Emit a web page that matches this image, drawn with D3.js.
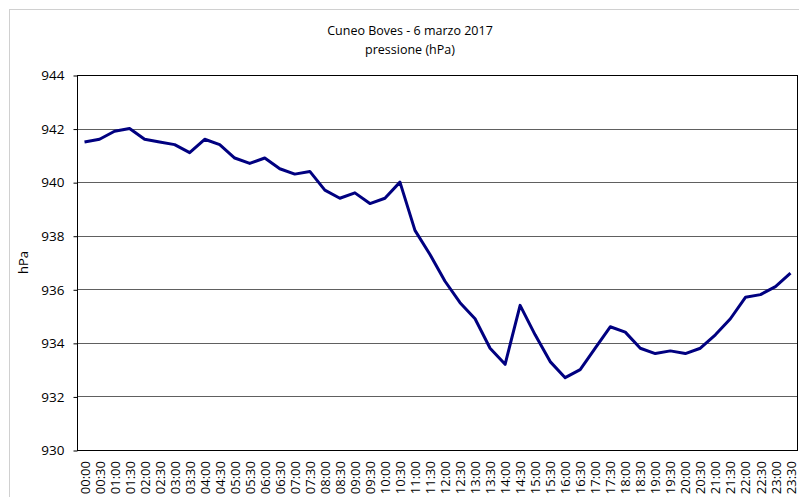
<!DOCTYPE html>
<html>
<head>
<meta charset="utf-8">
<script src="https://cdn.jsdelivr.net/npm/d3@7"></script>
<style>
  html, body { margin: 0; padding: 0; background: #fff; }
  svg { display: block; font-family: "Open Sans", "Noto Sans", sans-serif; }
</style>
</head>
<body>
<svg id="chart" width="799" height="497"></svg>
<script>
// Half-hourly time slots for the day
const times = [
  "00:00","00:30","01:00","01:30","02:00","02:30","03:00","03:30",
  "04:00","04:30","05:00","05:30","06:00","06:30","07:00","07:30",
  "08:00","08:30","09:00","09:30","10:00","10:30","11:00","11:30",
  "12:00","12:30","13:00","13:30","14:00","14:30","15:00","15:30",
  "16:00","16:30","17:00","17:30","18:00","18:30","19:00","19:30",
  "20:00","20:30","21:00","21:30","22:00","22:30","23:00","23:30"
];

// Atmospheric pressure readings (hPa)
const pressure = [
  941.5, 941.6, 941.9, 942.0, 941.6, 941.5, 941.4, 941.1,
  941.6, 941.4, 940.9, 940.7, 940.9, 940.5, 940.3, 940.4,
  939.7, 939.4, 939.6, 939.2, 939.4, 940.0, 938.2, 937.3,
  936.3, 935.5, 934.9, 933.8, 933.2, 935.4, 934.3, 933.3,
  932.7, 933.0, 933.8, 934.6, 934.4, 933.8, 933.6, 933.7,
  933.6, 933.8, 934.3, 934.9, 935.7, 935.8, 936.1, 936.6
];

const yTicks = [930, 932, 934, 936, 938, 940, 942, 944];
const titleLines = ["Cuneo Boves - 6 marzo 2017", "pressione (hPa)"];
const yLabel = "hPa";

const svg = d3.select("#chart");
const plot = { left: 77, right: 798, top: 75, bottom: 450 };

// Outer chart frame
svg.append("rect")
  .attr("x", 9.5).attr("y", 9.5)
  .attr("width", 820).attr("height", 520)
  .attr("fill", "#fff")
  .attr("stroke", "#d0d0d0").attr("stroke-width", 1);

const x = d3.scalePoint()
  .domain(times)
  .range([plot.left, plot.right])
  .padding(0.5);

const y = d3.scaleLinear()
  .domain([930, 944])
  .range([plot.bottom, plot.top]);

// Horizontal gridlines
svg.append("g")
  .selectAll("line")
  .data(yTicks)
  .join("line")
  .attr("x1", plot.left).attr("x2", plot.right)
  .attr("y1", d => Math.round(y(d)) + 0.5)
  .attr("y2", d => Math.round(y(d)) + 0.5)
  .attr("stroke", "#606060").attr("stroke-width", 1);

// Plot frame
svg.append("rect")
  .attr("x", plot.left + 0.5).attr("y", plot.top + 0.5)
  .attr("width", plot.right - plot.left - 1)
  .attr("height", plot.bottom - plot.top)
  .attr("fill", "none")
  .attr("stroke", "#000").attr("stroke-width", 1);

// Y axis labels with short outside ticks
const yAxis = d3.axisLeft(y).tickValues(yTicks).tickSize(4).tickPadding(9).tickFormat(d3.format("d"));
const gy = svg.append("g")
  .attr("transform", `translate(${plot.left + 0.5},0.5)`)
  .call(yAxis);
gy.select(".domain").remove();
gy.selectAll("text")
  .attr("font-size", 13.5)
  .attr("fill", "#000")
  .attr("font-family", "'Open Sans', sans-serif");
gy.selectAll("line").attr("stroke", "#000");

// X axis labels, rotated vertically
const xAxis = d3.axisBottom(x).tickSize(0).tickPadding(0);
const gx = svg.append("g")
  .attr("transform", `translate(0,${plot.bottom})`)
  .call(xAxis);
gx.select(".domain").remove();
gx.selectAll("text")
  .attr("font-size", 13)
  .attr("fill", "#000")
  .attr("font-family", "'Open Sans', sans-serif")
  .attr("transform", "rotate(-90)")
  .attr("text-anchor", "end")
  .attr("x", -11)
  .attr("y", 0)
  .attr("dy", "0.35em");

// Pressure line
const line = d3.line()
  .x((d, i) => x(times[i]))
  .y(d => y(d));

svg.append("path")
  .datum(pressure)
  .attr("d", line)
  .attr("fill", "none")
  .attr("stroke", "#000080")
  .attr("stroke-width", 3)
  .attr("stroke-linejoin", "round");

// Title
svg.append("g")
  .selectAll("text")
  .data(titleLines)
  .join("text")
  .attr("x", 410)
  .attr("y", (d, i) => 35 + i * 19)
  .attr("text-anchor", "middle")
  .attr("font-size", 12.5)
  .attr("fill", "#000")
  .text(d => d);

// Y axis title
svg.append("text")
  .attr("transform", `translate(28,${(plot.top + plot.bottom) / 2}) rotate(-90)`)
  .attr("text-anchor", "middle")
  .attr("font-size", 13)
  .attr("fill", "#000")
  .text(yLabel);
</script>
</body>
</html>
